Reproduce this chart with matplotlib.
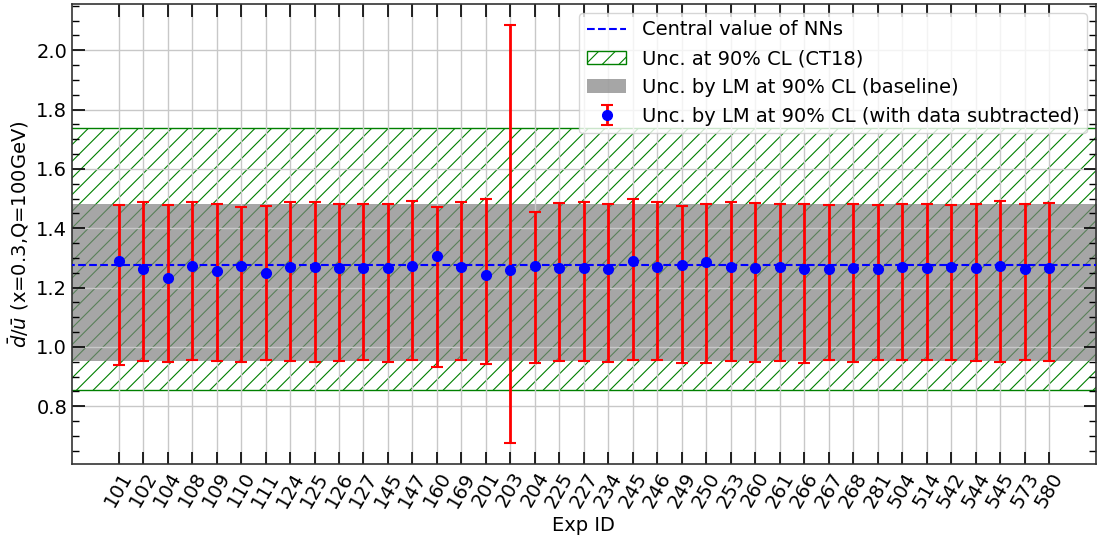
import numpy as np
import matplotlib.pyplot as plt

# data
exp_ids = ['101', '102', '104', '108', '109', '110', '111', '124', '125', '126',
           '127', '145', '147', '160', '169', '201', '203', '204', '225', '227',
           '234', '245', '246', '249', '250', '253', '260', '261', '266', '267',
           '268', '281', '504', '514', '542', '544', '545', '573', '580']
central = [1.290, 1.264, 1.232, 1.273, 1.255, 1.271, 1.249, 1.270, 1.269, 1.265,
           1.265, 1.265, 1.274, 1.306, 1.269, 1.242, 1.260, 1.272, 1.266, 1.266,
           1.264, 1.289, 1.269, 1.275, 1.287, 1.270, 1.267, 1.270, 1.263, 1.261,
           1.265, 1.262, 1.270, 1.266, 1.269, 1.266, 1.272, 1.264, 1.266]
upper = [1.479, 1.488, 1.478, 1.489, 1.482, 1.470, 1.476, 1.487, 1.487, 1.481,
         1.483, 1.483, 1.493, 1.471, 1.488, 1.497, 2.085, 1.455, 1.484, 1.487,
         1.481, 1.497, 1.487, 1.474, 1.483, 1.487, 1.485, 1.483, 1.481, 1.478,
         1.481, 1.478, 1.483, 1.481, 1.478, 1.483, 1.492, 1.483, 1.485]
lower = [0.938, 0.952, 0.949, 0.954, 0.952, 0.949, 0.956, 0.952, 0.949, 0.952,
         0.954, 0.950, 0.954, 0.931, 0.954, 0.943, 0.675, 0.944, 0.952, 0.953,
         0.949, 0.954, 0.954, 0.944, 0.946, 0.952, 0.950, 0.952, 0.946, 0.954,
         0.949, 0.954, 0.954, 0.954, 0.954, 0.952, 0.949, 0.954, 0.952]
nn_central = 1.276
ct18_band = (0.853, 1.739)
lm_band = (0.951, 1.482)

x = np.arange(len(exp_ids))
central = np.array(central)
yerr = [central - np.array(lower), np.array(upper) - central]

fontsize = 14
plt.rcParams['hatch.linewidth'] = 0.8
fig = plt.figure(figsize=(10.98, 5.4), dpi=100)
ax = fig.add_axes([0.0656, 0.1407, 0.9324, 0.852])

xb = np.array([-3, len(exp_ids) + 2])
ax.plot(xb, [nn_central]*2, '--', color='blue', lw=1.5, label='Central value of NNs', zorder=3)
ax.fill_between(xb, ct18_band[0], ct18_band[1], facecolor='none', edgecolor='green',
                hatch='//', lw=1, label='Unc. at 90% CL (CT18)', zorder=1)
ax.fill_between(xb, lm_band[0], lm_band[1], color='gray', alpha=0.7, lw=0,
                label='Unc. by LM at 90% CL (baseline)', zorder=1)
ax.errorbar(x, central, yerr=yerr, fmt='o', color='blue', ecolor='red', elinewidth=2,
            capsize=4, capthick=1.5, markersize=7,
            label='Unc. by LM at 90% CL (with data subtracted)', zorder=4)

ax.set_xlim(-1.9, 39.9)
ax.set_ylim(0.605, 2.156)
ax.set_xticks(x)
ax.set_xticklabels(exp_ids, rotation=60, fontsize=fontsize)
ax.set_yticks([0.8, 1.0, 1.2, 1.4, 1.6, 1.8, 2.0])
ax.set_yticks(np.arange(0.65, 2.16, 0.05), minor=True)
ax.tick_params(axis='y', labelsize=fontsize)
ax.tick_params(which='both', direction='in', top=True, right=True)
ax.tick_params(which='major', length=9, width=1.2)
ax.tick_params(which='minor', length=5, width=1)
ax.grid(True, which='major', color='#c8c8c8', lw=1)
for s in ax.spines.values():
    s.set_linewidth(1.2)
    s.set_color('#333333')

ax.set_xlabel('Exp ID', fontsize=fontsize, labelpad=4)
ax.set_ylabel(r'$\bar{d}/\bar{u}$ (x=0.3,Q=100GeV)', fontsize=fontsize)
ax.legend(loc='upper right', fontsize=fontsize, borderaxespad=0.45)

fig.savefig('out.png', dpi=100)
